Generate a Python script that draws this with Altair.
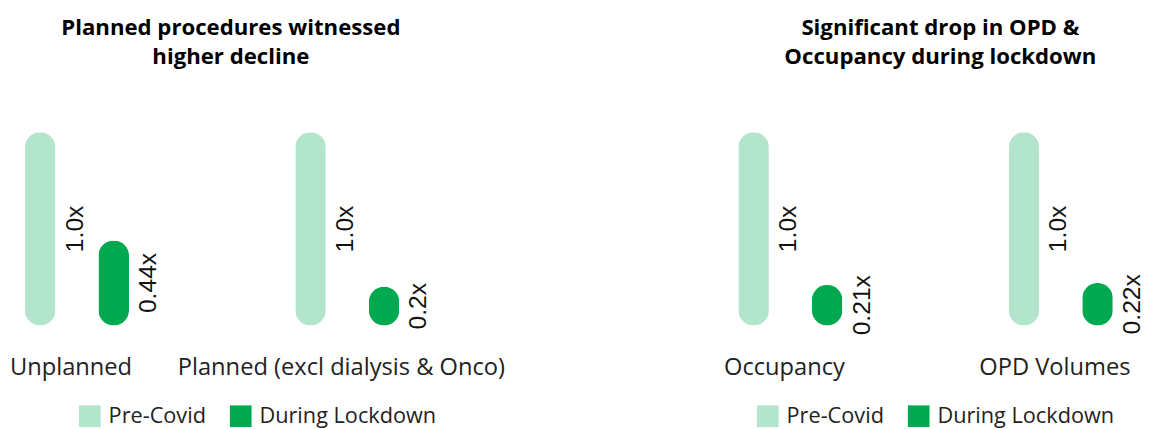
import altair as alt
import pandas as pd

series = ["Pre-Covid", "During Lockdown"]
colors = ["#B3E5CC", "#00A84F"]

p1_title = ["Planned procedures witnessed", "higher decline"]
p1_cats = ["Unplanned", "Planned (excl dialysis & Onco)"]
p1_pre = [1.0, 1.0]
p1_lock = [0.44, 0.2]
p1_pre_lbl = ["1.0x", "1.0x"]
p1_lock_lbl = ["0.44x", "0.2x"]

p2_title = ["Significant drop in OPD &", "Occupancy during lockdown"]
p2_cats = ["Occupancy", "OPD Volumes"]
p2_pre = [1.0, 1.0]
p2_lock = [0.21, 0.22]
p2_pre_lbl = ["1.0x", "1.0x"]
p2_lock_lbl = ["0.21x", "0.22x"]


def make_df(cats, pre, lock, pre_lbl, lock_lbl):
    rows = []
    for c, v, l in zip(cats, pre, pre_lbl):
        rows.append({"cat": c, "series": series[0], "value": v, "label": l})
    for c, v, l in zip(cats, lock, lock_lbl):
        rows.append({"cat": c, "series": series[1], "value": v, "label": l})
    return pd.DataFrame(rows)


def panel(df, cats, title, legend_x, title_dx):
    x = alt.X("cat:N", sort=cats, title=None,
              scale=alt.Scale(paddingInner=0.592, paddingOuter=0.051),
              axis=alt.Axis(domain=False, ticks=False, labelAngle=0, labelFontSize=24,
                            labelFont="Open Sans", labelColor="#222222", labelPadding=31,
                            labelOffset=-6, labelLimit=0))
    xo = alt.XOffset("series:N", sort=series,
                     scale=alt.Scale(paddingInner=0.5, paddingOuter=0))
    y = alt.Y("value:Q", scale=alt.Scale(domain=[0, 1], nice=False), axis=None)
    bars = alt.Chart(df).mark_bar(size=31, cornerRadius=15.5).encode(
        x=x, xOffset=xo, y=y,
        color=alt.Color("series:N", sort=series,
                        scale=alt.Scale(domain=series, range=colors),
                        legend=alt.Legend(orient="none", legendX=legend_x, legendY=277,
                                          direction="horizontal", title=None,
                                          symbolType="square", symbolSize=484,
                                          symbolStrokeWidth=0, symbolOpacity=1,
                                          labelFontSize=22, labelFont="Open Sans",
                                          labelColor="#222222", columnPadding=24,
                                          labelOffset=8, padding=0, labelLimit=0)),
    )
    text = alt.Chart(df).transform_calculate(mid="datum.value / 2").mark_text(
        angle=270, align="center", baseline="top", dy=23, fontSize=25,
        font="Liberation Sans", color="#111111"
    ).encode(x=x, xOffset=xo, y=alt.Y("mid:Q", scale=alt.Scale(domain=[0, 1], nice=False), axis=None),
             text="label:N")
    return alt.layer(bars, text).properties(
        width=414, height=196,
        title=alt.TitleParams(text=title, fontSize=22.5, font="Open Sans", fontWeight="bold",
                              color="#000000", lineHeight=29, anchor="middle", dx=title_dx,
                              offset=65),
    )


df1 = make_df(p1_cats, p1_pre, p1_lock, p1_pre_lbl, p1_lock_lbl)
df2 = make_df(p2_cats, p2_pre, p2_lock, p2_pre_lbl, p2_lock_lbl)

c1 = panel(df1, p1_cats, p1_title, 72, 19)
c2 = panel(df2, p2_cats, p2_title, 36, 15)

chart = alt.hconcat(c1, c2, spacing=309.5, bounds="flush").resolve_scale(
    color="independent", x="independent"
).properties(
    padding={"left": 0, "top": 6, "right": 0, "bottom": 0}
).configure_view(stroke=None)

chart.save("out.html", embed_options={"renderer": "svg", "actions": False})
